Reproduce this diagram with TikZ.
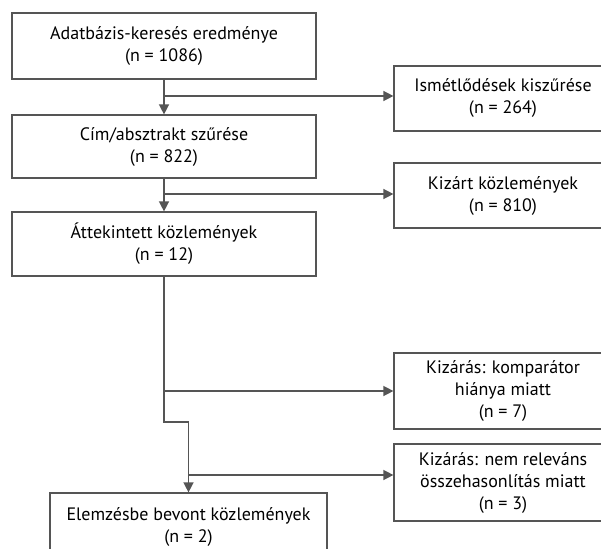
\documentclass[tikz,border=0pt]{standalone}
\usepackage{fontspec}
\setmainfont{PT Sans}
\usetikzlibrary{arrows.meta}
\definecolor{linegray}{HTML}{555555}
\begin{document}
\begin{tikzpicture}[x=1pt,y=-1pt,
    box/.style={draw=linegray,line width=1.2pt,align=center,inner sep=0pt,
      font=\fontsize{18}{22}\selectfont},
    arr/.style={draw=linegray,line width=1.4pt,-{Triangle[length=10pt,width=10pt]}}]
    \useasboundingbox (0,0) rectangle (601,548);
    % left column
    \node[box,minimum width=304pt,minimum height=66pt] (b1) at (164,46) {Adatbázis-keresés eredménye\\(n = 1086)};
    \node[box,minimum width=304pt,minimum height=63pt] (b2) at (164,146.5) {Cím/absztrakt szűrése\\(n = 822)};
    \node[box,minimum width=304pt,minimum height=64pt] (b3) at (164,244) {Áttekintett közlemények\\(n = 12)};
    \node[box,minimum width=277pt,minimum height=68pt] (b4) at (188.5,527) {Elemzésbe bevont közlemények\\(n = 2)};
    % right column
    \node[box,minimum width=218pt,minimum height=65pt] (r1) at (503,98.5) {Ismétlődések kiszűrése\\(n = 264)};
    \node[box,minimum width=218pt,minimum height=65pt] (r2) at (503,195.5) {Kizárt közlemények\\(n = 810)};
    \node[box,minimum width=218pt,minimum height=76pt] (r3) at (503,391) {Kizárás: komparátor\\hiánya miatt\\(n = 7)};
    \node[box,minimum width=218pt,minimum height=77pt] (r4) at (503,482.5) {Kizárás: nem releváns\\összehasonlítás miatt\\(n = 3)};
    % junctions
    \coordinate (j1) at (164,96);
    \coordinate (j2) at (164,194);
    \coordinate (j3) at (164,391);
    \coordinate (k4) at (188.5,422);
    \coordinate (j4) at (188.5,475);
    \draw[arr] (b1) -- (b2);
    \draw[arr] (b2) -- (b3);
    \draw[arr] (b3) |- (k4) -- (b4);
    \draw[arr] (j1) -- (j1 -| r1.west);
    \draw[arr] (j2) -- (j2 -| r2.west);
    \draw[arr] (j3) -- (j3 -| r3.west);
    \draw[arr] (j4) -- (j4 -| r4.west);
\end{tikzpicture}
\end{document}
